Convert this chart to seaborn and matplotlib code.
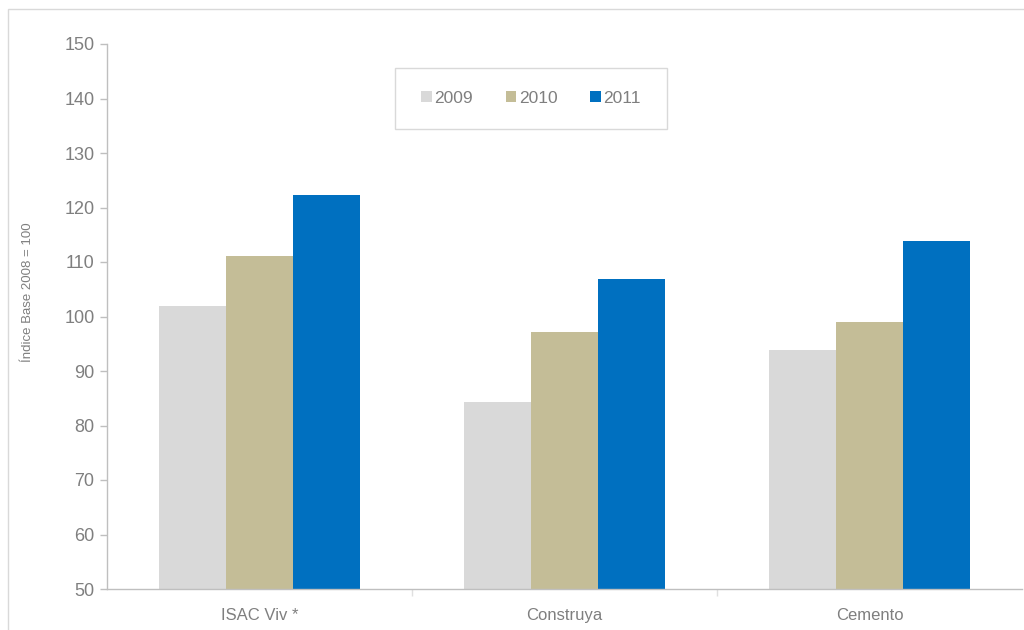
import matplotlib
matplotlib.use("Agg")
import matplotlib.pyplot as plt
import seaborn as sns
import pandas as pd
from matplotlib.patches import Rectangle, Patch

categories = ["ISAC Viv *", "Construya", "Cemento"]
years = ["2009", "2010", "2011"]
v2009 = [101.9, 84.3, 93.9]
v2010 = [111.1, 97.2, 99.0]
v2011 = [122.3, 106.9, 113.9]
colors = ["#d9d9d9", "#c4bd97", "#0070c0"]
ylabel = "Índice Base 2008 = 100"

rows = []
for yr, vals in zip(years, [v2009, v2010, v2011]):
    for c, v in zip(categories, vals):
        rows.append({"cat": c, "year": yr, "val": v})
df = pd.DataFrame(rows)

sns.set_theme(style="white")
plt.rcParams['font.family'] = ['Liberation Sans', 'DejaVu Sans']

fig = plt.figure(figsize=(10.24, 6.3), dpi=100)
ax = fig.add_axes([107/1024, 1-589/630, 915/1024, 545/630])

sns.barplot(data=df, x="cat", y="val", hue="year", hue_order=years,
            order=categories, palette=colors, width=0.66, gap=0,
            saturation=1, ax=ax, legend=False, linewidth=0)

ax.set_ylim(50, 150)
ax.set_xlim(-0.5, 2.5)
ax.set_yticks(range(50, 151, 10))
ax.set_xlabel("")
ax.set_ylabel(ylabel, fontsize=9.5, color="#7f7f7f")
ax.yaxis.set_label_coords(-0.080, (589-292)/545)

for s in ["top", "right"]:
    ax.spines[s].set_visible(False)
for s in ["left", "bottom"]:
    ax.spines[s].set_color("#bfbfbf")
    ax.spines[s].set_linewidth(1)

ax.tick_params(axis="y", which="major", left=True, length=5, width=1,
               color="#bfbfbf", labelsize=13, labelcolor="#7f7f7f", pad=4)
ax.tick_params(axis="x", which="major", bottom=False, labelsize=12,
               labelcolor="#7f7f7f", pad=8)
ax.set_xticks([0.5, 1.5], minor=True)
ax.tick_params(axis="x", which="minor", bottom=True, length=5, width=1,
               color="#e0e0e0")

# legend
handles = [Patch(facecolor=c, edgecolor="none") for c in colors]
leg = ax.legend(handles, years, loc="center", ncol=3,
                bbox_to_anchor=(288/915, (589-129)/545, 272/915, 61/545),
                frameon=False, fontsize=12.5, handlelength=0.6, handleheight=0.6,
                handletextpad=0.15, columnspacing=1.9)
for t in leg.get_texts():
    t.set_color("#7f7f7f")
ax.add_patch(Rectangle((288/915, (589-129)/545), 272/915, 61/545,
                       transform=ax.transAxes, fill=False,
                       edgecolor="#d9d9d9", linewidth=1, zorder=5))

# outer chart border
fig.patches.append(Rectangle((8/1024, -0.01), 1.02, 1-9/630+0.01,
                             transform=fig.transFigure, fill=False,
                             edgecolor="#d9d9d9", linewidth=1))

fig.savefig("out.png", dpi=100)
